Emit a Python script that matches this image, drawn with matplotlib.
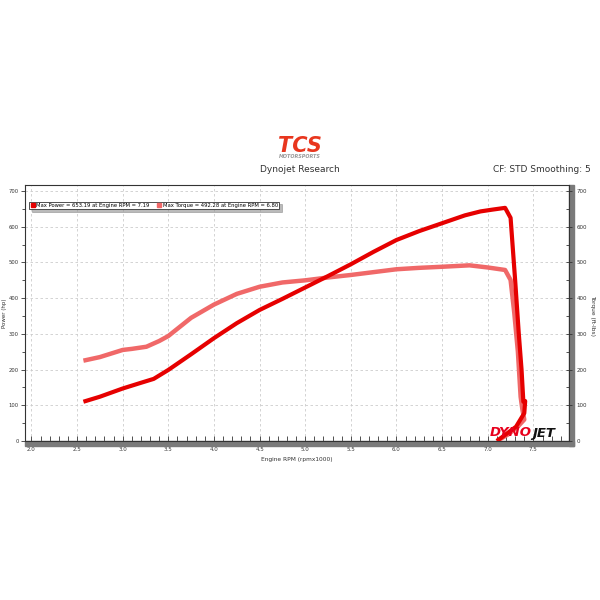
import matplotlib
matplotlib.use("Agg")
import matplotlib.pyplot as plt
from matplotlib.patches import Rectangle
from matplotlib.lines import Line2D
from matplotlib.ticker import MultipleLocator

# ---- data ----
rpm_power = [2.57, 2.75, 3.0, 3.2, 3.34, 3.5, 3.75, 4.0, 4.25, 4.5, 4.75, 5.0, 5.25,
             5.5, 5.75, 6.0, 6.25, 6.5, 6.75, 6.92, 7.05, 7.19, 7.25, 7.30, 7.34,
             7.37, 7.39, 7.41, 7.40, 7.31, 7.1]
power = [110, 124, 147, 163, 174, 199, 243, 288, 330, 367, 398, 430, 462,
         495, 530, 563, 588, 610, 632, 643, 648, 653, 625, 450, 300,
         200, 110, 112, 78, 40, 0]

rpm_torque = [2.57, 2.75, 3.0, 3.1, 3.26, 3.4, 3.5, 3.75, 4.0, 4.25, 4.5, 4.75, 5.0,
              5.25, 5.5, 5.75, 6.0, 6.25, 6.5, 6.8, 7.0, 7.19, 7.25, 7.29, 7.33,
              7.36, 7.38, 7.40, 7.32, 7.22, 7.1]
torque = [225, 235, 255, 258, 264, 280, 294, 345, 382, 412, 432, 444, 450,
          458, 465, 473, 481, 485, 488, 492, 486, 479, 451, 360, 250,
          124, 87, 60, 38, 18, 0]

legend_labels = ["Max Power = 653.19 at Engine RPM = 7.19",
                 "Max Torque = 492.28 at Engine RPM = 6.80"]
x_ticks = [2.0, 2.5, 3.0, 3.5, 4.0, 4.5, 5.0, 5.5, 6.0, 6.5, 7.0, 7.5]
y_ticks = [0, 100, 200, 300, 400, 500, 600, 700]

power_color = "#e60000"
torque_color = "#f06868"

fig = plt.figure(figsize=(6, 6), dpi=100)
fig.patch.set_facecolor("white")
ax = fig.add_axes([25 / 600, 1 - 441 / 600, 544 / 600, 256 / 600])

ax.plot(rpm_torque, torque, color=torque_color, lw=3.2, solid_capstyle="butt",
        solid_joinstyle="round", zorder=3)
ax.plot(rpm_power, power, color=power_color, lw=3.0, solid_capstyle="butt",
        solid_joinstyle="round", zorder=4)

ax.set_xlim(1.93, 7.89)
ax.set_ylim(0, 717)
ax.set_xticks(x_ticks)
ax.set_xticklabels([f"{t:.1f}" for t in x_ticks])
ax.xaxis.set_minor_locator(MultipleLocator(0.1))
ax.set_yticks(y_ticks)
ax.yaxis.set_minor_locator(MultipleLocator(50))
ax.grid(True, which="major", color="#cccccc", ls=(0, (3, 3)), lw=0.6)
ax.set_axisbelow(True)

for s in ["top", "right", "left", "bottom"]:
    ax.spines[s].set_color("#333333")
    ax.spines[s].set_linewidth(0.8)

ax.tick_params(axis="x", which="both", direction="in", length=3.5, width=0.6,
               color="#333333", labelsize=4, pad=4, labelcolor="#333333")
ax.tick_params(axis="y", which="major", direction="out", length=3, width=0.6,
               color="#333333", labelsize=3.8, pad=1.5, labelcolor="#333333")
ax.tick_params(axis="y", which="minor", direction="out", length=2, width=0.6,
               color="#333333")

# right axis (torque scale)
ax2 = ax.twinx()
ax2.set_ylim(0, 717)
ax2.set_yticks(y_ticks)
ax2.yaxis.set_minor_locator(MultipleLocator(50))
ax2.tick_params(axis="y", which="major", direction="inout", length=5, width=0.6,
                color="#333333", labelsize=4, pad=3, labelcolor="#333333")
ax2.tick_params(axis="y", which="minor", direction="in", length=2, width=0.6,
                color="#333333")
for s in ax2.spines.values():
    s.set_visible(False)

# gray bands
band_h = 4.5 / 256
band_w = 5 / 544
ax.add_patch(Rectangle((0, -band_h), 1 + band_w, band_h, transform=ax.transAxes,
                       color="#7a7a7a", clip_on=False, zorder=1))
ax.add_patch(Rectangle((1, -band_h), band_w, 1 + band_h, transform=ax.transAxes,
                       color="#7a7a7a", clip_on=False, zorder=1))

ax.set_xlabel("Engine RPM (rpmx1000)", fontsize=4.2, color="#333333", labelpad=4)
fig.text(5 / 600, 1 - 313 / 600, "Power (hp)", rotation=90, ha="center",
         va="center", fontsize=4, color="#333333")
fig.text(593 / 600, 1 - 316 / 600, "Torque (ft-lbs)", rotation=270, ha="center",
         va="center", fontsize=4.2, color="#333333")

# legend
handles = [Line2D([], [], ls="none", marker="s", ms=2.5, color=power_color),
           Line2D([], [], ls="none", marker="s", ms=2.5, color=torque_color)]
leg = ax.legend(handles, legend_labels, loc="upper left",
                bbox_to_anchor=(0.008, 0.935), ncol=2, fontsize=3.8,
                frameon=True, fancybox=False, shadow={"ox": 2, "oy": -2, "color": "#777777"},
                borderpad=0.25, handletextpad=0.2, columnspacing=1.5,
                handlelength=0.8, borderaxespad=0)
leg.get_frame().set_edgecolor("#333333")
leg.get_frame().set_linewidth(0.6)

# header texts
fig.text(300 / 600, 1 - 170 / 600, "Dynojet Research", ha="center", va="center",
         fontsize=6.5, color="#333333")
fig.text(591 / 600, 1 - 170 / 600, "CF: STD Smoothing: 5", ha="right",
         va="center", fontsize=6.5, color="#333333")
fig.text(300 / 600, 1 - 146 / 600, "TCS", ha="center", va="center",
         fontsize=15, fontweight="bold", style="italic", color="#e8361e")
fig.text(300 / 600, 1 - 157 / 600, "MOTORSPORTS", ha="center", va="center",
         fontsize=3.5, fontweight="bold", style="italic", color="#9a9a9a")

# dynojet mark
fig.text(532 / 600, 1 - 433 / 600, "DYNO", ha="right", va="center",
         fontsize=9.5, fontweight="bold", style="italic", color="#e8001c")
fig.text(532 / 600, 1 - 433 / 600, "JET", ha="left", va="center",
         fontsize=9.5, fontweight="bold", style="italic", color="#111111")

fig.savefig("out.png", dpi=100, facecolor="white")
